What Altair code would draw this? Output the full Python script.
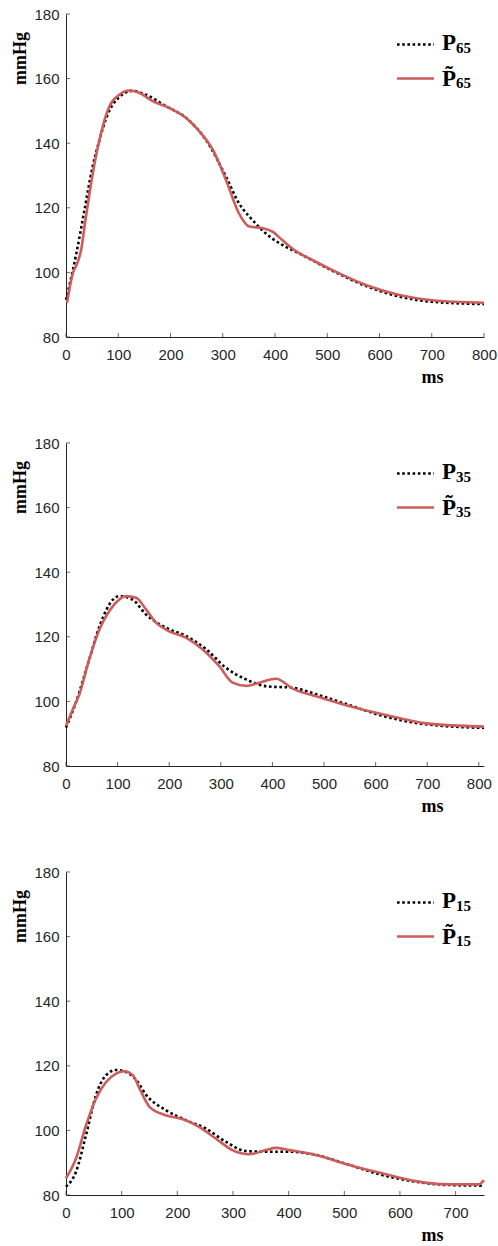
import altair as alt
import pandas as pd

# ---------------- data ----------------
# Panel 1: P65
t65_meas = [0, 8, 20, 35, 50, 64, 80, 100, 127, 153, 191, 230, 268, 306, 331, 357, 382, 414, 446, 510, 574, 638, 701, 800]
p65_meas = [91.5, 97, 106, 119, 132, 141, 149, 154, 156.2, 155, 151.5, 147.8, 141, 129.7, 121.4, 116.2, 112.1, 108.5, 105.9, 100.5, 95.8, 92.5, 90.9, 90.2]
t65_est = [2, 13, 22, 29, 37, 45, 55, 64, 83, 102, 121, 140, 166, 198, 230, 255, 281, 306, 331, 351, 376, 395, 414, 433, 478, 510, 574, 638, 701, 800]
p65_est = [90.6, 99.7, 103, 107, 116, 124.5, 134, 141, 151.4, 155, 156.3, 155.6, 153, 150.9, 147.8, 143.7, 138, 128.7, 118.3, 114.2, 113.7, 112.6, 110, 107.4, 103.3, 100.7, 96.1, 93, 91.4, 90.6]

# Panel 2: P35
t35_meas = [0, 19, 45, 65, 91, 103, 129, 155, 194, 233, 272, 310, 349, 388, 440, 485, 550, 614, 698, 810]
p35_meas = [91.9, 99.6, 113, 123.3, 131.5, 132.6, 131.5, 126.9, 122.8, 120.2, 116.1, 110.4, 106.8, 104.7, 104.2, 102.2, 98.8, 95.5, 92.9, 91.8]
t35_est = [0, 13, 26, 45, 65, 91, 116, 136, 155, 175, 200, 233, 265, 297, 323, 349, 375, 407, 440, 485, 550, 614, 698, 810]
p35_est = [92.4, 97.5, 102.2, 113, 122.3, 129.5, 132.6, 132.1, 128.5, 124.3, 121.7, 119.7, 116.1, 110.9, 105.8, 104.8, 105.8, 107, 103.9, 101.6, 98.5, 96, 93.2, 92.2]

# Panel 3: P15
t15_meas = [0, 18, 36, 54, 72, 90, 108, 126, 144, 179, 215, 251, 287, 323, 359, 401, 449, 509, 568, 628, 688, 751]
p15_meas = [82.6, 87.2, 98.6, 111, 117.1, 118.7, 118.1, 115.6, 111, 106.3, 103.2, 100.6, 96.5, 93.6, 93.4, 93.4, 92.4, 89.3, 86.2, 84.1, 83.1, 82.9]
t15_est = [0, 18, 36, 54, 72, 90, 105, 120, 132, 150, 179, 209, 239, 269, 299, 329, 359, 377, 401, 449, 509, 568, 628, 688, 742, 751]
p15_est = [85.2, 91.3, 101.6, 109.9, 115, 117.6, 118.3, 117.1, 113, 107.3, 104.7, 103.5, 101.1, 97.5, 93.9, 92.6, 93.9, 94.6, 93.9, 92.4, 89.3, 86.7, 84.3, 83.3, 83.3, 84.6]

panels = [
    dict(sub="65", xmax=800, xticks=list(range(0, 801, 100)),
         tm=t65_meas, pm=p65_meas, te=t65_est, pe=p65_est),
    dict(sub="35", xmax=810, xticks=list(range(0, 801, 100)),
         tm=t35_meas, pm=p35_meas, te=t35_est, pe=p35_est),
    dict(sub="15", xmax=751, xticks=list(range(0, 701, 100)),
         tm=t15_meas, pm=p15_meas, te=t15_est, pe=p15_est),
]
y_ticks = [80, 100, 120, 140, 160, 180]

W, H = 418, 323
AX = "#262626"
RED = "#cd5c5c"
SERIF = "Liberation Serif"
SANS = "Liberation Sans"


def panel(p):
    xs = alt.Scale(domain=[0, p["xmax"]], nice=False, zero=False)
    ys = alt.Scale(domain=[80, 180], nice=False, zero=False)
    xax = alt.Axis(values=p["xticks"], tickSize=0, labelPadding=10, grid=False,
                   title="ms", titleX=366, titleY=40, titleAlign="center",
                   titleBaseline="middle", titleAngle=0)
    yax = alt.Axis(values=y_ticks, tickSize=0, labelPadding=7, grid=False,
                   title="mmHg", titleAngle=-90, titleX=-46, titleY=44,
                   titleAlign="center", titleBaseline="middle")

    meas = pd.DataFrame({"t": p["tm"], "p": p["pm"]})
    est = pd.DataFrame({"t": p["te"], "p": p["pe"]})

    black = alt.Chart(meas).mark_line(
        color="black", strokeWidth=2.6, strokeDash=[2.6, 2.6], interpolate="monotone"
    ).encode(x=alt.X("t:Q", scale=xs, axis=xax), y=alt.Y("p:Q", scale=ys, axis=yax))
    red = alt.Chart(est).mark_line(
        color=RED, strokeWidth=2.6, interpolate="monotone"
    ).encode(x=alt.X("t:Q", scale=xs), y=alt.Y("p:Q", scale=ys))

    xt = alt.Chart(pd.DataFrame({"v": p["xticks"]})).mark_tick(
        color=AX, size=4, thickness=1, orient="vertical"
    ).encode(x=alt.X("v:Q", scale=xs), y=alt.value(H - 2))
    yt = alt.Chart(pd.DataFrame({"v": y_ticks})).mark_tick(
        color=AX, size=4, thickness=1, orient="horizontal"
    ).encode(y=alt.Y("v:Q", scale=ys), x=alt.value(2))

    one = pd.DataFrame({"k": [0]})
    leg_black = alt.Chart(one).mark_rule(color="black", strokeWidth=2.6, strokeDash=[2.6, 2.6]).encode(
        x=alt.value(331), x2=alt.value(368), y=alt.value(30.5))
    leg_red = alt.Chart(one).mark_rule(color=RED, strokeWidth=2.6).encode(
        x=alt.value(331), x2=alt.value(368), y=alt.value(64.5))
    txt = dict(font=SERIF, fontWeight="bold", align="left", baseline="alphabetic", color="black")
    l1 = alt.Chart(one).mark_text(fontSize=23, **txt).encode(
        x=alt.value(376), y=alt.value(35.5), text=alt.value("P"))
    l1s = alt.Chart(one).mark_text(fontSize=15, **txt).encode(
        x=alt.value(390), y=alt.value(38.5), text=alt.value(p["sub"]))
    l2 = alt.Chart(one).mark_text(fontSize=23, **txt).encode(
        x=alt.value(376), y=alt.value(71.5), text=alt.value("P\u0303"))
    l2s = alt.Chart(one).mark_text(fontSize=15, **txt).encode(
        x=alt.value(390), y=alt.value(74), text=alt.value(p["sub"]))

    return alt.layer(black, red, xt, yt, leg_black, leg_red, l1, l1s, l2, l2s).properties(
        width=W, height=H)


chart = alt.vconcat(*[panel(p) for p in panels], spacing=50).properties(
    padding={"left": 10, "top": 7, "right": 0, "bottom": 0}
).configure_view(stroke=None).configure_axis(
    domainColor=AX, domainWidth=1, labelColor=AX, labelFont=SANS, labelFontSize=15,
    titleFont=SERIF, titleFontWeight="bold", titleFontSize=18, titleColor="black",
).configure_axisX(labelFlush=False)

chart.save("out.html", embed_options={"renderer": "svg", "actions": False})
